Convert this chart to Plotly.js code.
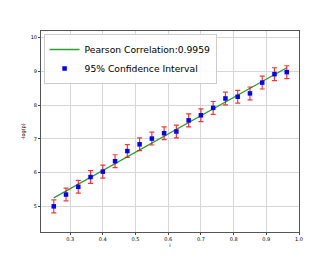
<!DOCTYPE html>
<html><head><meta charset="utf-8">
<script src="https://cdn.plot.ly/plotly-3.0.1.min.js"></script>
<style>html,body{margin:0;padding:0;background:#fff}#c{width:332px;height:266px}</style>
</head><body><div id="c"></div>
<script>
const xs = [0.25,0.2875,0.325,0.3625,0.4,0.4375,0.475,0.5125,0.55,0.5875,0.625,0.6625,0.7,0.7375,0.775,0.8125,0.85,0.8875,0.925,0.9625];
const ys = [5.00,5.35,5.58,5.87,6.03,6.34,6.64,6.84,7.01,7.17,7.22,7.55,7.70,7.92,8.20,8.25,8.35,8.67,8.92,8.98];
const errs = [0.19,0.19,0.19,0.19,0.19,0.19,0.19,0.19,0.19,0.19,0.19,0.19,0.19,0.19,0.19,0.19,0.19,0.19,0.19,0.19];
const fitX = [0.25,0.9625];
const fitY = [5.25,9.11];
const xTicks = [0.3,0.4,0.5,0.6,0.7,0.8,0.9,1.0];
const yTicks = [5,6,7,8,9,10];

const traces = [
 {x: fitX, y: fitY, mode:'lines', name:'Pearson Correlation:0.9959', line:{color:'#2ca02c', width:1.3}},
 {x: xs, y: ys, mode:'markers', name:'95% Confidence Interval',
  marker:{color:'#0000ff', size:4.5, symbol:'square'},
  error_y:{type:'data', array: errs, visible:true, color:'rgba(255,0,0,0.8)', thickness:1.2, width:2.5}}
];
const layout = {
 width:332, height:266,
 margin:{l:41, r:33, t:31, b:34},
 paper_bgcolor:'#fff', plot_bgcolor:'#fff',
 font:{family:'DejaVu Sans', color:'#000'},
 showlegend:true,
 legend:{x:0.01, y:0.985, xanchor:'left', yanchor:'top', bgcolor:'rgba(255,255,255,0.9)', bordercolor:'#cccccc', borderwidth:1, font:{size:9.2, family:'DejaVu Sans', color:'#000'}, tracegroupgap:0, itemwidth:30, tracegroupgap:0},
 xaxis:{range:[0.211,1.0], tickvals:xTicks, ticktext:xTicks.map(v=>v.toFixed(1)), tickfont:{size:5, color:'#000'}, ticks:'outside', ticklen:2, tickcolor:'#444',
   showgrid:true, gridcolor:'#d6d6d6', gridwidth:1, zeroline:false, showline:true, linecolor:'#555', linewidth:1, mirror:true,
   title:{text:'i', font:{size:5, color:'#000'}, standoff:2}},
 yaxis:{range:[4.24,10.2], tickvals:yTicks, ticktext:yTicks.map(String), tickfont:{size:5, color:'#000'}, ticks:'outside', ticklen:2, tickcolor:'#444',
   showgrid:true, gridcolor:'#d6d6d6', gridwidth:1, zeroline:false, showline:true, linecolor:'#555', linewidth:1, mirror:true,
   title:{text:'-log(p)', font:{size:5, color:'#000'}, standoff:4}}
};
Plotly.newPlot('c', traces, layout, {staticPlot:true, displayModeBar:false});
</script></body></html>
